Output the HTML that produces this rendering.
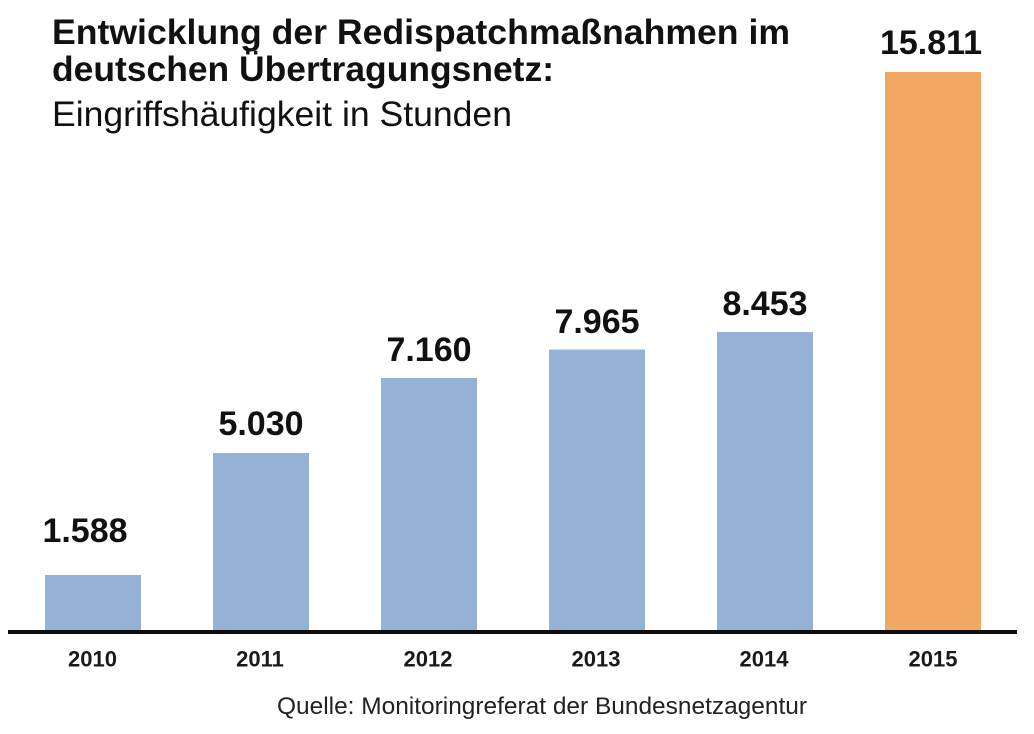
<!DOCTYPE html>
<html>
<head>
<meta charset="utf-8">
<style>
  html, body { margin: 0; padding: 0; background: #ffffff; }
  svg { display: block; }
</style>
</head>
<body>
<svg width="1034" height="734" viewBox="0 0 1034 734" xmlns="http://www.w3.org/2000/svg">
  <rect x="0" y="0" width="1034" height="734" fill="#ffffff"/>

  <!-- Title -->
  <g font-family="'Liberation Sans', Arial, sans-serif" fill="#111111">
    <text x="52" y="44" font-size="35" font-weight="bold" textLength="738" lengthAdjust="spacingAndGlyphs">Entwicklung der Redispatchmaßnahmen im</text>
    <text x="52" y="81" font-size="35" font-weight="bold" textLength="502" lengthAdjust="spacingAndGlyphs">deutschen Übertragungsnetz:</text>
    <text x="52" y="126" font-size="35" textLength="460" lengthAdjust="spacingAndGlyphs">Eingriffshäufigkeit in Stunden</text>
  </g>

  <!-- Bars -->
  <rect x="45" y="575" width="96" height="56" fill="#95B1D6"/>
  <rect x="213" y="453" width="96" height="178" fill="#95B1D6"/>
  <rect x="381" y="378" width="96" height="253" fill="#95B1D6"/>
  <rect x="549" y="349.5" width="96" height="281.5" fill="#95B1D6"/>
  <rect x="717" y="332" width="96" height="299" fill="#95B1D6"/>
  <rect x="885" y="72" width="96" height="559" fill="#F1A862"/>

  <!-- Axis -->
  <rect x="8" y="630" width="1009" height="4" fill="#0d0d0d"/>

  <!-- Value labels -->
  <g font-family="'Liberation Sans', Arial, sans-serif" font-size="34" font-weight="bold" fill="#111111" text-anchor="middle">
    <text x="85" y="542">1.588</text>
    <text x="261" y="435">5.030</text>
    <text x="429" y="361">7.160</text>
    <text x="597" y="333">7.965</text>
    <text x="765" y="315">8.453</text>
    <text x="931" y="54">15.811</text>
  </g>

  <!-- Year labels -->
  <g font-family="'Liberation Sans', Arial, sans-serif" font-size="22" font-weight="bold" fill="#1a1a1a" text-anchor="middle">
    <text x="92.5" y="666.5">2010</text>
    <text x="260" y="666.5">2011</text>
    <text x="428" y="666.5">2012</text>
    <text x="596" y="666.5">2013</text>
    <text x="764" y="666.5">2014</text>
    <text x="933" y="666.5">2015</text>
  </g>

  <!-- Source -->
  <text x="277" y="714" font-family="'Liberation Sans', Arial, sans-serif" font-size="24" fill="#222222" textLength="530" lengthAdjust="spacingAndGlyphs">Quelle: Monitoringreferat der Bundesnetzagentur</text>
</svg>
</body>
</html>
